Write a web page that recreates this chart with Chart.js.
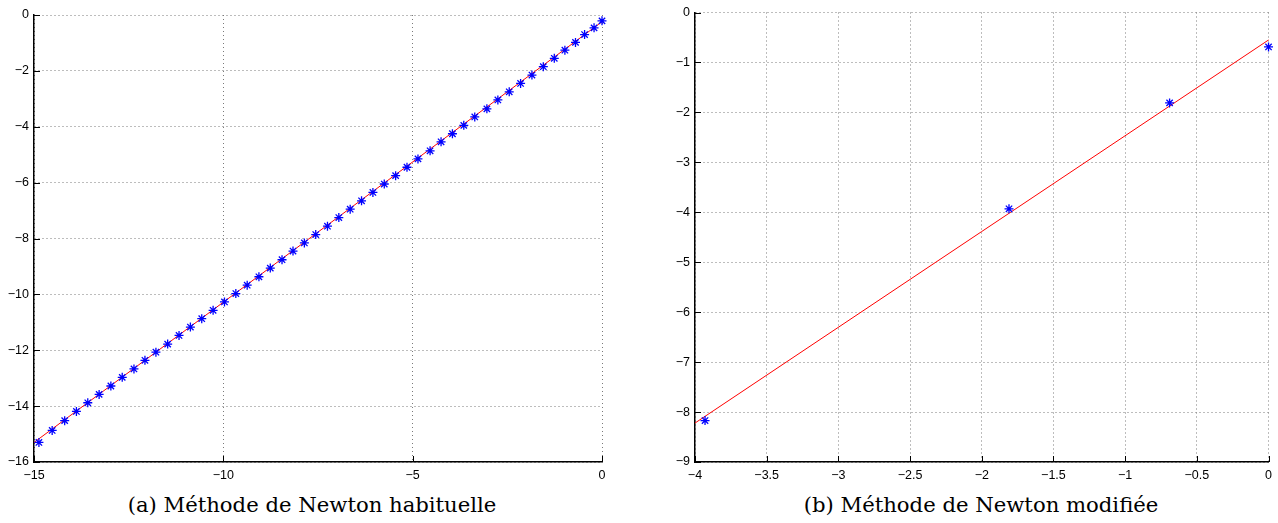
<!DOCTYPE html>
<html>
<head>
<meta charset="utf-8">
<script src="https://cdn.jsdelivr.net/npm/chart.js@4.4.1/dist/chart.umd.min.js"></script>
<style>
  html, body { margin: 0; padding: 0; background: #fff; }
  body { width: 1278px; height: 523px; position: relative; overflow: hidden; }
  .wrap { position: absolute; top: 0; height: 490px; }
  .cap { position: absolute; top: 490px; font-family: "DejaVu Serif", "Liberation Serif", serif; font-size: 20px; color: #000; white-space: nowrap; transform: translateX(-50%); line-height: 30px; }
</style>
</head>
<body>
<div class="wrap" id="wa" style="left:0;width:620px;"><canvas id="ca"></canvas></div>
<div class="wrap" id="wb" style="left:640px;width:638px;"><canvas id="cb"></canvas></div>
<div class="cap" id="capa" style="left:312px;">(a) Méthode de Newton habituelle</div>
<div class="cap" id="capb" style="left:981px;">(b) Méthode de Newton modifiée</div>
<script>
// ---------- data (a) ----------
const aPointsX = [-14.87,-14.52,-14.19,-13.88,-13.58,-13.28,-12.97,-12.67,-12.36,-12.07,-11.78,-11.47,-11.17,-10.87,-10.57,-10.27,-9.97,-9.67,-9.37,-9.06,-8.76,-8.45,-8.16,-7.86,-7.56,-7.25,-6.95,-6.65,-6.35,-6.05,-5.75,-5.45,-5.15,-4.86,-4.54,-4.25,-3.95,-3.65,-3.36,-3.04,-2.75,-2.45,-2.15,-1.85,-1.55,-1.26,-0.98,-0.70,-0.46,-0.21,0];
const aPointsY = [-15.30,-14.87,-14.52,-14.19,-13.88,-13.58,-13.28,-12.97,-12.67,-12.36,-12.07,-11.78,-11.47,-11.17,-10.87,-10.57,-10.27,-9.97,-9.67,-9.37,-9.06,-8.76,-8.45,-8.16,-7.86,-7.56,-7.25,-6.95,-6.65,-6.35,-6.05,-5.75,-5.45,-5.15,-4.86,-4.54,-4.25,-3.95,-3.65,-3.36,-3.04,-2.75,-2.45,-2.15,-1.85,-1.55,-1.26,-0.98,-0.70,-0.46,-0.21];
const aFitX = [-15, 0];
const aFitY = [-15.30, -0.24];
const aTicksX = [-15, -10, -5, 0];
const aTicksY = [-16, -14, -12, -10, -8, -6, -4, -2, 0];

// ---------- data (b) ----------
const bPointsX = [-3.93, -1.81, -0.69, 0];
const bPointsY = [-8.17, -3.93, -1.81, -0.69];
const bFitX = [-4, 0];
const bFitY = [-8.22, -0.55];
const bTicksX = [-4, -3.5, -3, -2.5, -2, -1.5, -1, -0.5, 0];
const bTicksY = [-9, -8, -7, -6, -5, -4, -3, -2, -1, 0];

const zip = (xs, ys) => xs.map((x, i) => ({ x: x, y: ys[i] }));
const fmt = v => (v < 0 ? '\u2212' : '') + String(Math.abs(Math.round(v * 100) / 100));

// fit caption (a) to the reference width
(function () {
  const a = document.getElementById('capa'), b = document.getElementById('capb');
  const target = 369;
  const w = a.getBoundingClientRect().width;
  const size = 20 * target / w;
  a.style.fontSize = size + 'px';
  b.style.fontSize = size + 'px';
})();

const inwardTicks = {
  id: 'inwardTicks',
  afterDatasetsDraw(chart) {
    const ctx = chart.ctx;
    const area = chart.chartArea;
    const xs = chart.scales.x, ys = chart.scales.y;
    ctx.save();
    ctx.strokeStyle = '#000';
    ctx.lineWidth = 1;
    ctx.beginPath();
    xs.ticks.forEach(t => {
      const px = Math.round(xs.getPixelForValue(t.value)) + 0.5;
      ctx.moveTo(px, area.bottom);
      ctx.lineTo(px, area.bottom - 6);
    });
    ys.ticks.forEach(t => {
      const py = Math.round(ys.getPixelForValue(t.value)) + 0.5;
      ctx.moveTo(area.left, py);
      ctx.lineTo(area.left + 6, py);
    });
    ctx.stroke();
    ctx.restore();
  }
};

function makeChart(canvasId, pts, fit, xr, yr, ticksX, ticksY, pad, yW) {
  return new Chart(document.getElementById(canvasId), {
    type: 'scatter',
    data: {
      datasets: [
        {
          data: fit,
          showLine: true,
          borderColor: '#ff0000',
          borderWidth: 1,
          pointRadius: 0,
          fill: false,
          clip: false,
          order: 2
        },
        {
          data: pts,
          showLine: false,
          pointStyle: 'star',
          pointRadius: 4.5,
          pointBorderColor: '#0000ff',
          pointBackgroundColor: '#0000ff',
          pointBorderWidth: 1.3,
          clip: false,
          order: 1
        }
      ]
    },
    options: {
      animation: false,
      responsive: true,
      maintainAspectRatio: false,
      devicePixelRatio: 1,
      layout: { padding: pad },
      plugins: { legend: { display: false }, tooltip: { enabled: false } },
      scales: {
        x: {
          type: 'linear', min: xr[0], max: xr[1],
          afterBuildTicks: s => { s.ticks = ticksX.map(v => ({ value: v })); },
          afterFit: s => { s.height = 28; },
          grid: { color: '#7a7a7a', lineWidth: 1, drawTicks: false },
          border: { display: true, color: '#000', width: 1.5, dash: [1, 3] },
          ticks: { padding: 6, color: '#000', font: { family: 'Liberation Sans', size: 12.5 }, callback: v => fmt(v), maxRotation: 0, autoSkip: false }
        },
        y: {
          type: 'linear', min: yr[0], max: yr[1],
          afterBuildTicks: s => { s.ticks = ticksY.map(v => ({ value: v })); },
          afterFit: s => { s.width = yW; },
          grid: { color: '#7a7a7a', lineWidth: 1, drawTicks: false },
          border: { display: true, color: '#000', width: 1.5, dash: [1, 3] },
          ticks: { padding: 5, color: '#000', font: { family: 'Liberation Sans', size: 12.5 }, callback: v => fmt(v), autoSkip: false }
        }
      }
    },
    plugins: [inwardTicks]
  });
}

makeChart('ca', zip(aPointsX, aPointsY), zip(aFitX, aFitY), [-15, 0], [-16, 0], aTicksX, aTicksY,
  { top: 15, right: 18, left: 0, bottom: 0 }, 34);
makeChart('cb', zip(bPointsX, bPointsY), zip(bFitX, bFitY), [-4, 0], [-9, 0], bTicksX, bTicksY,
  { top: 11, right: 9, left: 0, bottom: 0 }, 55);
</script>
</body>
</html>
